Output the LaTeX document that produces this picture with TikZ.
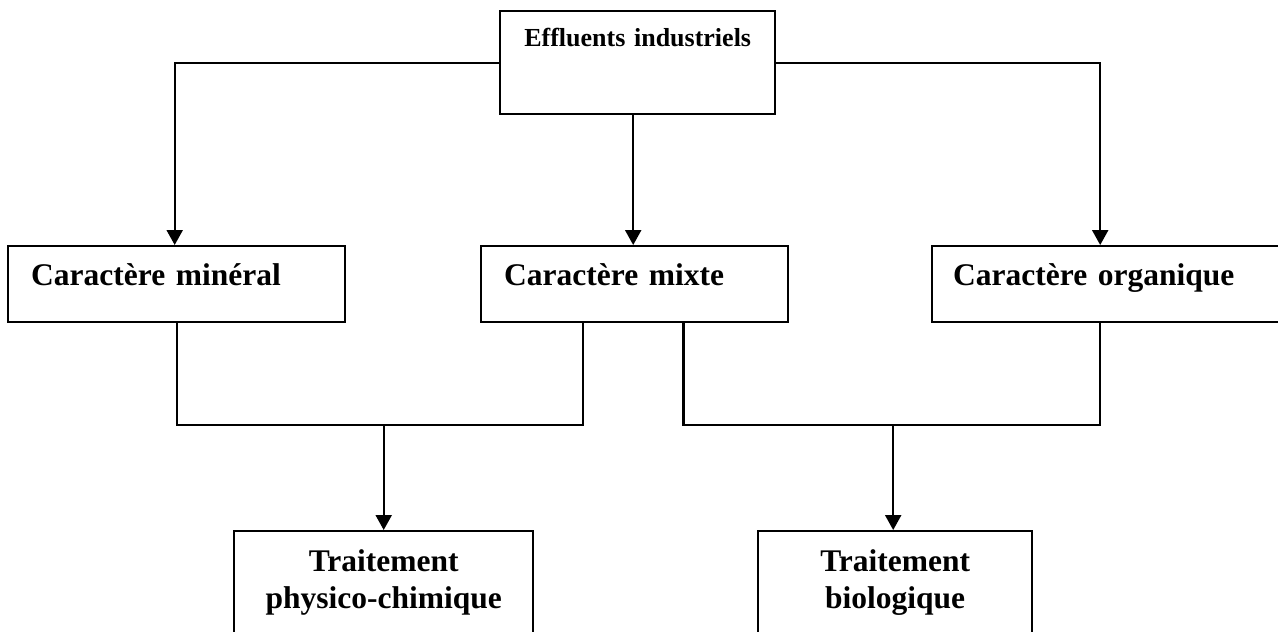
\documentclass[tikz,border=0pt]{standalone}
\usepackage{fontspec}
\setmainfont{Liberation Serif}
\usetikzlibrary{arrows.meta,calc}
\begin{document}
\begin{tikzpicture}[x=1pt,y=-1pt,
  every node/.style={font=\bfseries},
  box/.style={draw, line width=2.4pt, rectangle, inner ysep=0pt, anchor=north west},
  bigtext/.style={font=\bfseries\fontsize{31.5}{37}\selectfont},
  catbox/.style={box, bigtext, inner xsep=23pt, align=left, text height=39pt, text depth=37pt},
  resbox/.style={box, bigtext, inner xsep=0pt, align=center, text height=40.7pt, text depth=80pt},
  link/.style={line width=2.2pt},
  arrow/.style={link, -{Triangle[width=16pt,length=15pt]}}]
\useasboundingbox (0,0) rectangle (1278,632);
\clip (0,0) rectangle (1278,632);

% source
\node[box, inner xsep=0pt, align=center, text width=275pt, text height=35pt, text depth=68pt,
      font=\bfseries\fontsize{26}{30}\selectfont] (src) at (499,10) {Effluents industriels};

% character of the effluents
\node[catbox, text width=291pt] (min) at (7,245) {Caractère minéral};
\node[catbox, text width=261pt] (mix) at (480,245) {Caractère mixte};
\node[catbox, inner xsep=21pt, text width=318pt] (org) at (931,245) {Caractère organique};

% treatments
\node[resbox, text width=299pt] (phys) at (233,530) {Traitement\\physico-chimique};
\node[resbox, text width=274pt] (bio) at (757,530) {Traitement\\biologique};

% split from the source
\draw[arrow] (src.west) -| ([xshift=-2pt]min.north);
\draw[arrow] (src.east) -| ([xshift=-12pt]org.north);
\draw[arrow] ([xshift=-1.5pt]mix.north |- src.south) -- ([xshift=-1.5pt]mix.north);

% joins towards the treatments
\coordinate (mixl) at ($(mix.south west)!0.332!(mix.south east)$);
\coordinate (mixr) at ($(mix.south west)!0.658!(mix.south east)$);
\draw[link] (min.south) -- (min.south |- 0,425) -- (mixl |- 0,425) -- (mixl);
\draw[link] (mixr) -- (mixr |- 0,425) -- ([xshift=-12pt]org.south |- 0,425) -- ([xshift=-12pt]org.south);
\draw[arrow] (phys.north |- 0,425) -- (phys.north);
\draw[arrow] ([xshift=-2pt]bio.north |- 0,425) -- ([xshift=-2pt]bio.north);
\end{tikzpicture}
\end{document}
